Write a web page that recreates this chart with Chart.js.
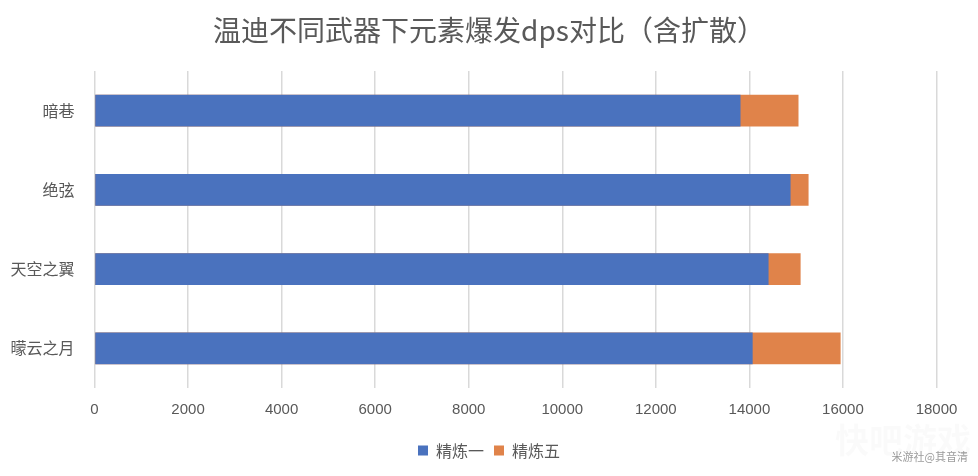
<!DOCTYPE html>
<html>
<head>
<meta charset="utf-8">
<script src="https://cdn.jsdelivr.net/npm/chart.js@4/dist/chart.umd.min.js"></script>
<style>
html,body{margin:0;padding:0;background:#fff;}
#wrap{width:978px;height:476px;position:relative;}
</style>
</head>
<body>
<div id="wrap"><canvas id="c" width="978" height="476"></canvas></div>
<script>
const titleText = '温迪不同武器下元素爆发dps对比（含扩散）';
const categories = ['暗巷', '绝弦', '天空之翼', '曚云之月'];
const seriesNames = ['精炼一', '精炼五'];
const refine1 = [13810, 14880, 14410, 14070];
const refine5 = [15050, 15265, 15095, 15950];
const xTicks = [0, 2000, 4000, 6000, 8000, 10000, 12000, 14000, 16000, 18000];

const FONT = '"Noto Sans CJK SC", "Liberation Sans", sans-serif';
const TXT = '#595959';

const watermark = {
  id: 'watermark',
  afterDraw(chart) {
    const ctx = chart.ctx;
    ctx.save();
    ctx.fillStyle = 'rgba(0,0,0,0.018)';
    ctx.font = 'bold 34px ' + FONT;
    ctx.textBaseline = 'middle';
    ctx.fillText('快吧游戏', 835, 440);
    ctx.fillStyle = 'rgba(120,120,120,0.75)';
    ctx.font = '11px ' + FONT;
    ctx.textAlign = 'right';
    ctx.fillText('米游社@其音清', 968, 457);
    ctx.restore();
  }
};

new Chart(document.getElementById('c'), {
  type: 'bar',
  data: {
    labels: categories,
    datasets: [
      { label: seriesNames[0], data: refine1, backgroundColor: '#4A72BE', order: 0, grouped: false,
        barPercentage: 0.4, categoryPercentage: 1 },
      { label: seriesNames[1], data: refine5, backgroundColor: '#E0834A', order: 1, grouped: false,
        barPercentage: 0.4, categoryPercentage: 1 }
    ]
  },
  options: {
    indexAxis: 'y',
    responsive: false,
    animation: false,
    layout: { padding: { left: 0, right: 0, top: 0, bottom: 7.5 } },
    plugins: {
      title: {
        display: true, text: titleText, color: TXT,
        font: { family: FONT, size: 28, weight: 'normal' },
        padding: { top: 14, bottom: 23.4 }
      },
      legend: {
        position: 'bottom',
        labels: {
          color: TXT, boxWidth: 10, boxHeight: 10, padding: 10,
          font: { family: FONT, size: 16 }
        }
      },
      tooltip: { enabled: false }
    },
    scales: {
      x: {
        min: 0, max: 18000,
        afterBuildTicks(s) { s.ticks = xTicks.map(v => ({ value: v })); },
        afterFit(s) { s.height = 44.5; },
        grid: { color: '#d9d9d9', lineWidth: 1.5, drawTicks: false },
        border: { display: false },
        ticks: { color: TXT, padding: 13, callback: v => String(v),
                 font: { family: '"Liberation Sans Narrow", "Liberation Sans", sans-serif', size: 15 } }
      },
      y: {
        afterFit(s) { s.width = 94.5; },
        grid: { display: false, drawTicks: false },
        border: { display: false },
        ticks: { color: TXT, padding: 20, font: { family: FONT, size: 16 } }
      },
      yRight: {
        type: 'category',
        position: 'right',
        labels: categories,
        afterFit(s) { s.width = 41.5; },
        grid: { display: false, drawTicks: false },
        border: { display: false },
        ticks: { display: false }
      }
    }
  },
  plugins: [watermark]
});
</script>
</body>
</html>
